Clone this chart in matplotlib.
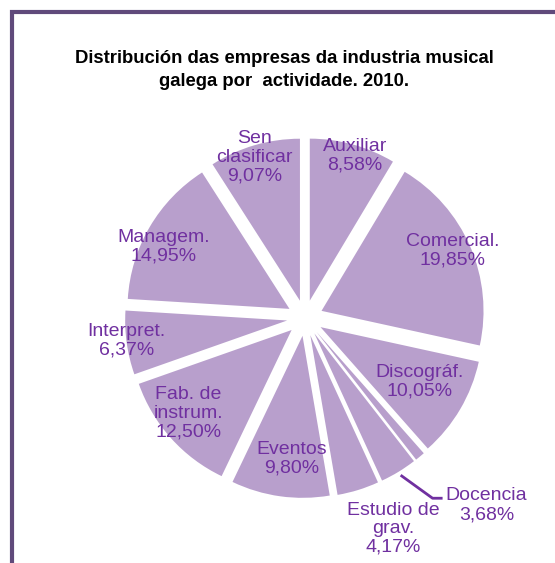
import numpy as np
import matplotlib
matplotlib.use('Agg')
import matplotlib.pyplot as plt

# Datos
categorias = ['Auxiliar', 'Comercial.', 'Discográf.', '', 'Docencia', 'Estudio de\ngrav.',
              'Eventos', 'Fab. de\ninstrum.', 'Interpret.', 'Managem.', 'Sen\nclasificar']
porcentaxes = [8.58, 19.85, 10.05, 0.98, 3.68, 4.17, 9.80, 12.50, 6.37, 14.95, 9.07]
titulo = 'Distribución das empresas da industria musical\ngalega por  actividade. 2010.'

# Axuste das etiquetas (distancia relativa ao raio, desprazamento angular)
dist_etiq = [1.05, 1.0, 0.81, 0, 1.61, 1.41, 0.87, 0.93, 1.11, 0.98, 1.04]
desp_etiq = [-1.7, 1.1, 1.3, 0, 12.8, 5.5, 2.7, -2.8, -0.7, 3.6, 1.0]

W, H = 555, 563
cor_porcion = '#B89FCC'
cor_texto = '#7030A0'
cor_marco = '#604A7B'

fig = plt.figure(figsize=(W / 100, H / 100), dpi=100)
ax = fig.add_axes([0, 0, 1, 1])

centro = (305, H - 318)
raio = 162
separacion = 18

wedges, _ = ax.pie(porcentaxes, startangle=90, counterclock=False,
                   colors=[cor_porcion] * len(porcentaxes),
                   explode=[separacion] * len(porcentaxes),
                   radius=raio, center=centro, frame=True,
                   wedgeprops=dict(linewidth=0))
ax.set_xlim(0, W)
ax.set_ylim(0, H)
ax.set_aspect('equal')
ax.axis('off')

fonte = ['Liberation Sans', 'DejaVu Sans']
for w, cat, pct, d, s in zip(wedges, categorias, porcentaxes, dist_etiq, desp_etiq):
    if not cat:
        continue
    ang = np.deg2rad((w.theta1 + w.theta2) / 2 + s)
    lx = centro[0] + d * raio * np.cos(ang)
    ly = centro[1] + d * raio * np.sin(ang)
    txt = cat + '\n' + f'{pct:.2f}'.replace('.', ',') + '%'
    ax.text(lx, ly, txt, ha='center', va='center', multialignment='center',
            color=cor_texto, fontsize=14, family=fonte, linespacing=1.12)
    if cat == 'Docencia':
        # liña guía
        am = np.deg2rad((w.theta1 + w.theta2) / 2)
        r0 = raio + separacion + 4
        x0 = centro[0] + r0 * np.cos(am)
        y0 = centro[1] + r0 * np.sin(am)
        xe, ye = lx - 44, ly + 7
        ax.plot([x0, xe - 10, xe], [y0, ye, ye], color=cor_texto, lw=2,
                solid_capstyle='butt')

fig.text(284 / W, 1 - 70 / H, titulo, ha='center', va='center',
         fontsize=13.3, fontweight='bold', family=fonte, linespacing=1.4)

# Marco
ax.plot([11.5, 11.5, W], [0, H - 11.5, H - 11.5], color=cor_marco, lw=3,
        solid_capstyle='butt', solid_joinstyle='miter')

fig.savefig('out.png', dpi=100)
